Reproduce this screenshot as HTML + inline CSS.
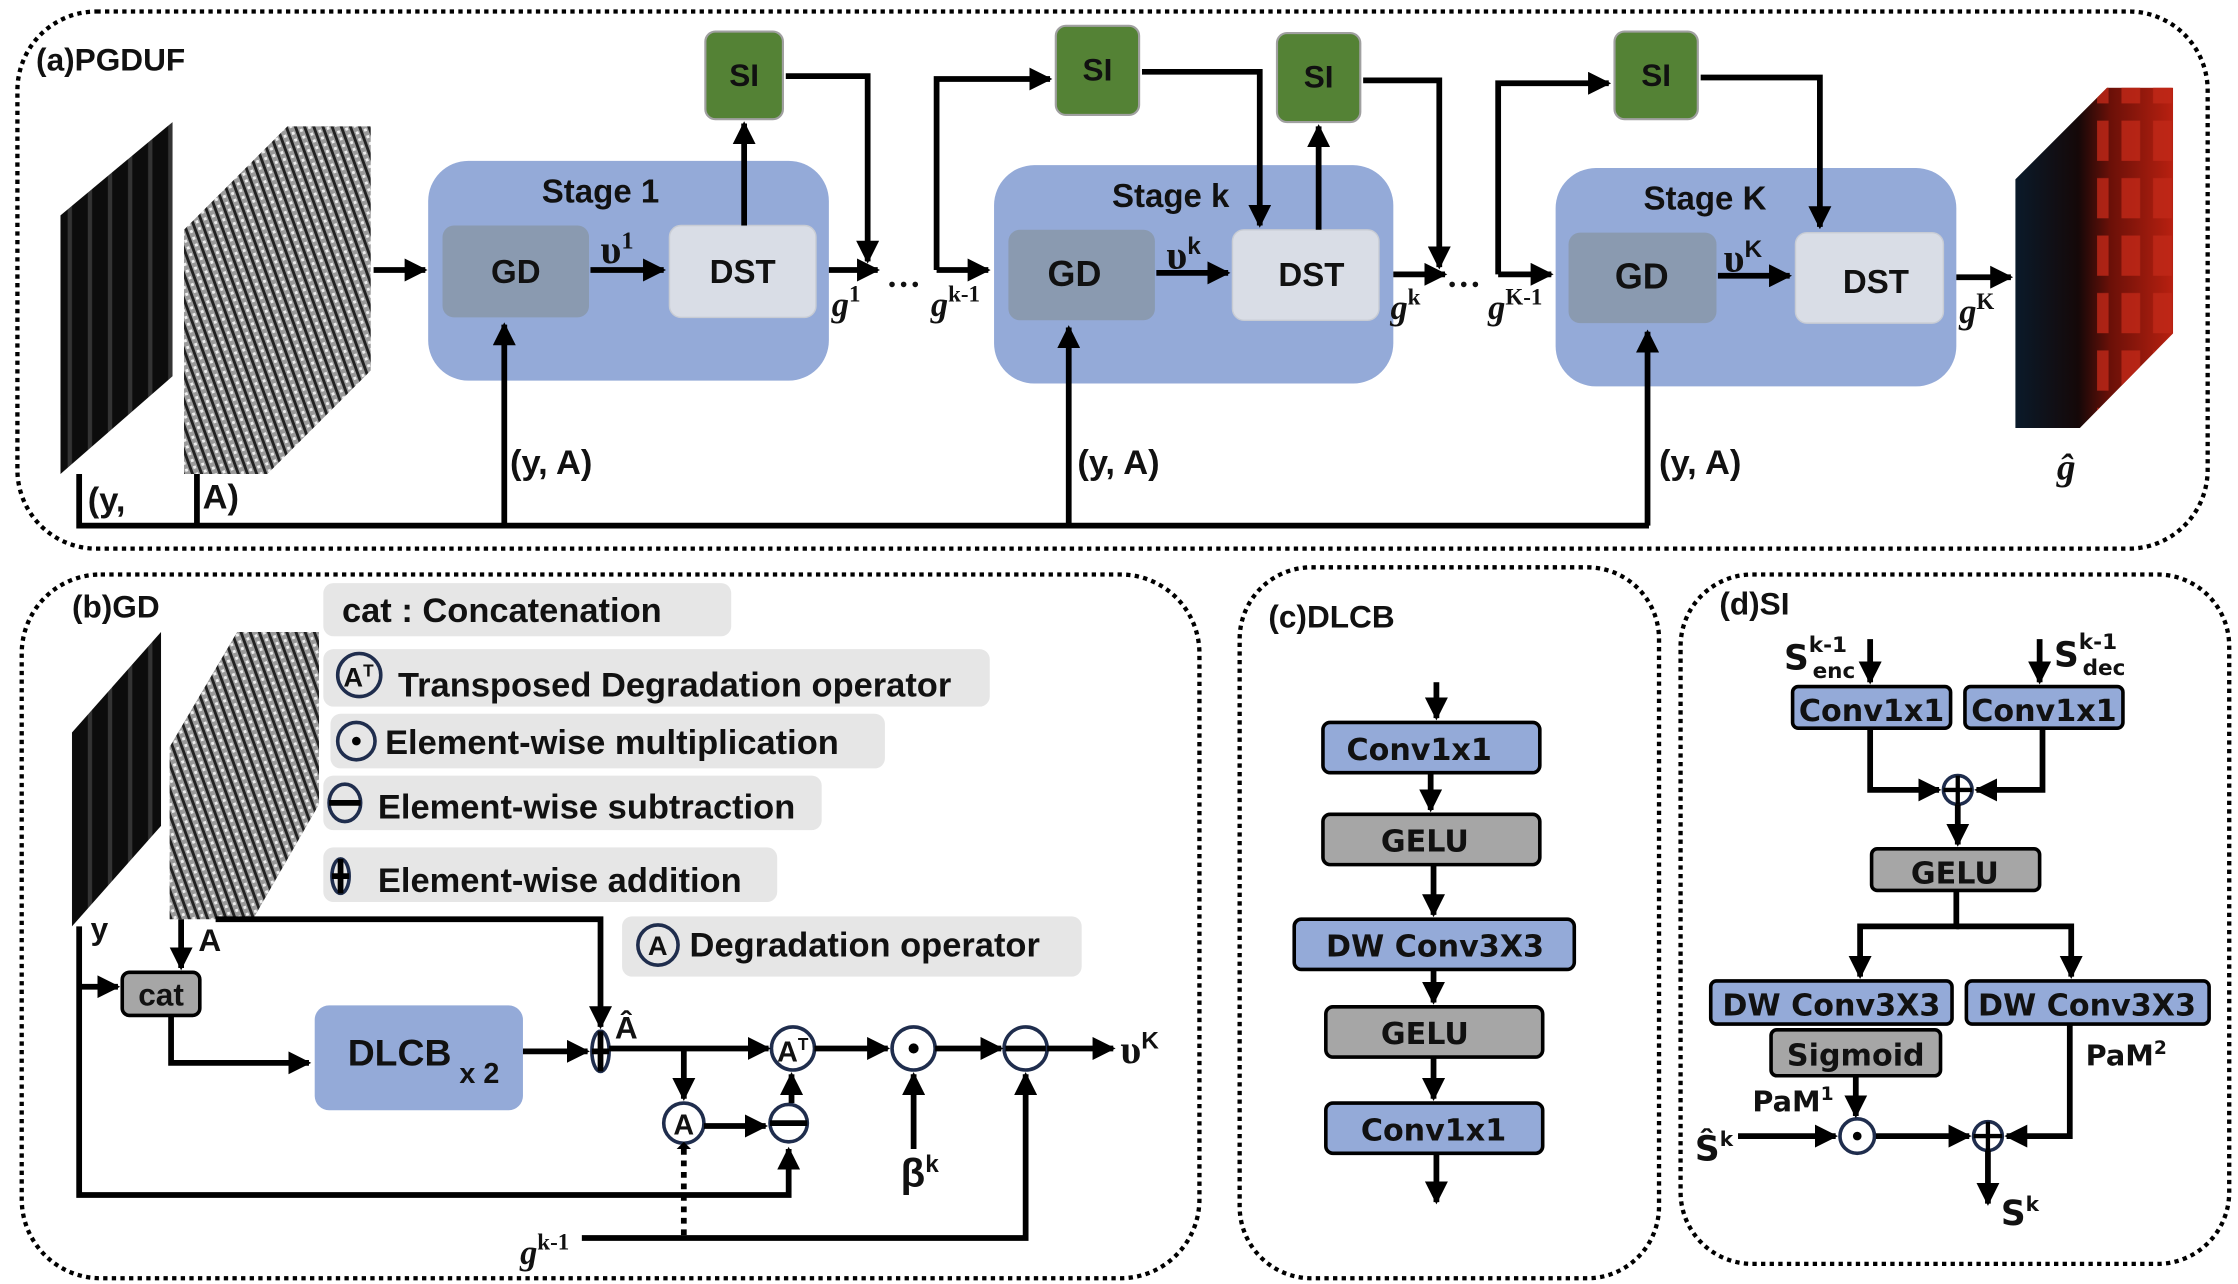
<!DOCTYPE html>
<html><head><meta charset="utf-8"><style>
html,body{margin:0;padding:0;background:#fff}
svg{display:block}
.t{font-family:"Liberation Sans",sans-serif;font-weight:bold;fill:#111}
.d{font-family:"DejaVu Sans",sans-serif;font-weight:bold;fill:#111}
.m{font-family:"Liberation Serif",serif;font-weight:bold;font-style:italic;fill:#111}
</style></head><body>
<svg width="2238" height="1284" viewBox="0 0 1558 894" xmlns="http://www.w3.org/2000/svg">
<defs>
<marker id="ah" viewBox="0 0 10 10" refX="9" refY="5" markerWidth="4" markerHeight="4" orient="auto-start-reverse" markerUnits="strokeWidth">
<path d="M0,0 L10,5 L0,10 z" fill="#000"/></marker>
<pattern id="noise" width="6" height="5" patternUnits="userSpaceOnUse" patternTransform="rotate(-20)">
<rect width="6" height="5" fill="#9a9a9a"/><rect width="2" height="5" fill="#222"/><rect x="3" y="1" width="2" height="2" fill="#eee"/></pattern>
<pattern id="ystripe" width="14" height="20" patternUnits="userSpaceOnUse">
<rect width="14" height="20" fill="#0c0c0c"/><rect x="5" width="3" height="20" fill="#333"/></pattern>
<linearGradient id="cubeg" x1="0" x2="1" y1="0" y2="0">
<stop offset="0" stop-color="#0a1a2a"/><stop offset="0.4" stop-color="#150808"/><stop offset="0.6" stop-color="#6a1008"/><stop offset="1" stop-color="#b82010"/></linearGradient>
<pattern id="redbl" width="22" height="40" patternUnits="userSpaceOnUse">
<rect x="3" y="4" width="13" height="28" fill="#c02818" opacity="0.8"/></pattern>
<clipPath id="cc"><polygon points="1403,125 1467,61 1513,61 1513,232 1448,298 1403,298"/></clipPath>
</defs>
<g fill="none" stroke="#000" stroke-width="3" stroke-dasharray="3 3">
<rect x="12" y="8" width="1525" height="374" rx="55"/>
<rect x="15" y="400" width="820" height="490" rx="55"/>
<rect x="863" y="395" width="292" height="495" rx="50"/>
<rect x="1170" y="400" width="382" height="480" rx="50"/>
</g>
<text class="t" x="25" y="49" font-size="22">(a)PGDUF</text>
<text class="t" x="50" y="430" font-size="22">(b)GD</text>
<text class="t" x="883" y="437" font-size="22">(c)DLCB</text>
<text class="t" x="1197" y="428" font-size="22">(d)SI</text>

<polygon points="42,150 120,85 120,262 42,330" fill="url(#ystripe)"/>
<polygon points="128,160 200,88 258,88 258,258 186,330 128,330" fill="url(#noise)"/>
<g clip-path="url(#cc)">
<rect x="1403" y="61" width="110" height="237" fill="url(#cubeg)"/>
<rect x="1460" y="61" width="53" height="237" fill="url(#redbl)"/>
</g>
<text class="m" x="1432" y="334" font-size="26">ĝ</text>

<g>
<rect x="298" y="112" width="279" height="153" rx="28" fill="#94aad8"/>
<rect x="692" y="115" width="278" height="152" rx="28" fill="#94aad8"/>
<rect x="1083" y="117" width="279" height="152" rx="28" fill="#94aad8"/>
<rect x="308" y="157" width="102" height="64" rx="8" fill="#8a9ab0"/>
<rect x="466" y="157" width="102" height="64" rx="8" fill="#d9dde6" stroke="#c8ccd4"/>
<rect x="702" y="160" width="102" height="63" rx="8" fill="#8a9ab0"/>
<rect x="858" y="160" width="102" height="63" rx="8" fill="#d9dde6" stroke="#c8ccd4"/>
<rect x="1092" y="162" width="103" height="63" rx="8" fill="#8a9ab0"/>
<rect x="1250" y="162" width="103" height="63" rx="8" fill="#d9dde6" stroke="#c8ccd4"/>
</g>
<g class="t" font-size="23" text-anchor="middle">
<text x="418" y="141">Stage 1</text><text x="815" y="144">Stage k</text><text x="1187" y="146">Stage K</text>
<text x="359" y="197">GD</text><text x="517" y="197">DST</text>
<text x="748" y="199" font-size="25">GD</text><text x="913" y="199">DST</text>
<text x="1143" y="201" font-size="25">GD</text><text x="1306" y="204">DST</text>
</g>
<g fill="#548235" stroke="#a0a0a0" stroke-width="1.5">
<rect x="491" y="22" width="54" height="61" rx="7"/>
<rect x="735" y="18" width="58" height="62" rx="7"/>
<rect x="889" y="23" width="58" height="62" rx="7"/>
<rect x="1124" y="22" width="58" height="61" rx="7"/>
</g>
<g class="t" font-size="22" text-anchor="middle">
<text x="518" y="60">SI</text><text x="764" y="56">SI</text><text x="918" y="61">SI</text><text x="1153" y="60">SI</text>
</g>
<g fill="none" stroke="#000" stroke-width="4" marker-end="url(#ah)">
<path d="M260,188 H296"/>
<path d="M411,188 H462"/>
<path d="M518,157 V86"/>
<path d="M547,53 H604 V182"/>
<path d="M577,188 H611"/>
<path d="M652,188 V55 H731"/>
<path d="M652,188 H688"/>
<path d="M805,190 H855"/>
<path d="M795,50 H877 V157"/>
<path d="M918,160 V88"/>
<path d="M949,56 H1002 V186"/>
<path d="M970,191 H1006"/>
<path d="M1043,191 V58 H1120"/>
<path d="M1043,191 H1080"/>
<path d="M1196,192 H1246"/>
<path d="M1184,54 H1267 V158"/>
<path d="M1362,193 H1400"/>
<path d="M351,366 V226"/>
<path d="M744,366 V228"/>
<path d="M1147,366 V231"/>
</g>
<path d="M55,330 V366 H1148 M137,330 V366" fill="none" stroke="#000" stroke-width="4"/>
<g class="t" font-size="24">
<text x="61" y="356">(y,</text><text x="141" y="354">A)</text>
<text x="355" y="330">(y, A)</text><text x="750" y="330">(y, A)</text><text x="1155" y="330">(y, A)</text>
</g>
<g class="m" font-size="24">
<text x="579" y="220">g<tspan font-size="16" dy="-10" font-style="normal">1</tspan></text>
<text x="617" y="200" font-style="normal">…</text>
<text x="648" y="220">g<tspan font-size="16" dy="-10" font-style="normal">k-1</tspan></text>
<text x="968" y="222">g<tspan font-size="16" dy="-10" font-style="normal">k</tspan></text>
<text x="1007" y="200" font-style="normal">…</text>
<text x="1036" y="222">g<tspan font-size="16" dy="-10" font-style="normal">K-1</tspan></text>
<text x="1364" y="225">g<tspan font-size="16" dy="-10" font-style="normal">K</tspan></text>
<text x="418" y="183" font-style="normal" font-size="28">υ<tspan font-size="17" dy="-10">1</tspan></text>
<text x="812" y="187" font-style="normal" font-size="28">υ<tspan font-size="17" dy="-10" font-family="Liberation Sans">k</tspan></text>
<text x="1200" y="189" font-style="normal" font-size="28">υ<tspan font-size="17" dy="-10" font-family="Liberation Sans">K</tspan></text>
</g>

<polygon points="50,510 112,440 112,575 50,645" fill="url(#ystripe)"/>
<polygon points="118,520 165,440 222,440 222,560 176,640 118,640" fill="url(#noise)"/>
<g fill="#e6e6e6">
<rect x="225" y="406" width="284" height="37" rx="7"/>
<rect x="225" y="452" width="464" height="40" rx="7"/>
<rect x="230" y="497" width="386" height="38" rx="7"/>
<rect x="225" y="540" width="347" height="38" rx="7"/>
<rect x="225" y="590" width="316" height="38" rx="7"/>
<rect x="433" y="638" width="320" height="42" rx="7"/>
</g>
<g fill="none" stroke="#1f2d4d" stroke-width="2.5">
<circle cx="250" cy="470" r="15"/><circle cx="248" cy="516" r="13"/>
<ellipse cx="240" cy="559" rx="11" ry="13"/><ellipse cx="237" cy="610" rx="6" ry="12"/>
<circle cx="458" cy="658" r="14"/>
</g>
<path d="M229,559 H251 M237,598 V622 M231,610 H243" stroke="#000" stroke-width="4"/>
<circle cx="248" cy="516" r="3" fill="#000"/>
<g class="t" font-size="24">
<text x="238" y="433">cat : Concatenation</text>
<text x="239" y="478" font-size="19">A<tspan font-size="12" dy="-7">T</tspan></text>
<text x="277" y="485">Transposed Degradation operator</text>
<text x="268" y="525">Element-wise multiplication</text>
<text x="263" y="570">Element-wise subtraction</text>
<text x="263" y="621">Element-wise addition</text>
<text x="451" y="665" font-size="19">A</text>
<text x="480" y="666">Degradation operator</text>
</g>
<rect x="85" y="677" width="54" height="30" rx="5" fill="#a6a6a6" stroke="#000" stroke-width="2.5"/>
<text class="t" x="112" y="700" font-size="22" text-anchor="middle">cat</text>
<rect x="219" y="700" width="145" height="73" rx="10" fill="#94aad8"/>
<text class="t" x="242" y="742" font-size="26">DLCB<tspan font-size="20" dy="12"> x 2</tspan></text>
<g fill="none" stroke="#1f2d4d" stroke-width="2.5">
<ellipse cx="418" cy="732" rx="6" ry="14"/>
<circle cx="552" cy="730" r="15"/><circle cx="636" cy="730" r="15"/><circle cx="714" cy="730" r="15"/>
<circle cx="476" cy="782" r="14"/><circle cx="549" cy="782" r="13"/>
</g>
<path d="M418,718 V746 M412,732 H424 M700,730 H728 M536,782 H562" stroke="#000" stroke-width="4"/>
<circle cx="636" cy="730" r="3.5" fill="#000"/>
<text class="t" x="541" y="739" font-size="20">A<tspan font-size="12" dy="-8">T</tspan></text>
<text class="t" x="476" y="790" font-size="20" text-anchor="middle">A</text>
<g fill="none" stroke="#000" stroke-width="4" marker-end="url(#ah)">
<path d="M55,687 H82"/>
<path d="M126,640 V674"/>
<path d="M150,640 H418 V715"/>
<path d="M119,707 V740 H215"/>
<path d="M364,732 H409"/>
<path d="M424,730 H535"/>
<path d="M476,730 V765"/>
<path d="M490,784 H533"/>
<path d="M551,768 V748"/>
<path d="M567,730 H618"/>
<path d="M651,730 H697"/>
<path d="M729,730 H775"/>
<path d="M636,800 V748"/>
<path d="M55,645 V832 H549 V800"/>
<path d="M405,862 H714 V748"/>
</g>
<path d="M476,860 V800" stroke="#000" stroke-width="4" stroke-dasharray="4 4"/>
<path d="M476,800 l-5,0 l5,-5 l5,5z" fill="#000"/>
<g class="t" font-size="22">
<text x="63" y="654">y</text><text x="138" y="662">A</text>
<text x="428" y="723">Â</text>
<text x="780" y="740" font-family="Liberation Serif" font-weight="bold" font-size="28">υ<tspan font-size="17" dy="-10" font-family="Liberation Sans">K</tspan></text>
<text x="627" y="826" font-weight="bold" font-size="28">β<tspan font-size="17" dy="-10">k</tspan></text>
</g>
<text class="m" x="362" y="880" font-size="24">g<tspan font-size="16" dy="-10" font-style="normal">k-1</tspan></text>

<g stroke="#000" stroke-width="2.5">
<rect x="921" y="503" width="151" height="35" rx="5" fill="#94aad8"/>
<rect x="921" y="567" width="151" height="35" rx="5" fill="#a6a6a6"/>
<rect x="901" y="640" width="195" height="35" rx="5" fill="#94aad8"/>
<rect x="923" y="701" width="151" height="35" rx="5" fill="#a6a6a6"/>
<rect x="923" y="768" width="151" height="35" rx="5" fill="#94aad8"/>
</g>
<g class="d" font-size="21" text-anchor="middle">
<text x="988" y="529">Conv1x1</text><text x="992" y="593">GELU</text><text x="999" y="666">DW Conv3X3</text>
<text x="992" y="727">GELU</text><text x="998" y="794">Conv1x1</text>
</g>
<g fill="none" stroke="#000" stroke-width="4" marker-end="url(#ah)">
<path d="M1000,475 V500"/><path d="M996,538 V564"/><path d="M998,602 V637"/>
<path d="M998,675 V698"/><path d="M998,736 V765"/><path d="M1000,803 V837"/>
</g>

<g stroke="#000" stroke-width="2.5">
<rect x="1248" y="478" width="110" height="29" rx="4" fill="#94aad8"/>
<rect x="1368" y="478" width="110" height="29" rx="4" fill="#94aad8"/>
<rect x="1303" y="591" width="117" height="29" rx="4" fill="#a6a6a6"/>
<rect x="1191" y="683" width="168" height="30" rx="4" fill="#94aad8"/>
<rect x="1369" y="683" width="169" height="30" rx="4" fill="#94aad8"/>
<rect x="1233" y="717" width="118" height="32" rx="4" fill="#a6a6a6"/>
</g>
<g class="d" font-size="21" text-anchor="middle">
<text x="1303" y="502">Conv1x1</text><text x="1423" y="502">Conv1x1</text>
<text x="1361" y="615">GELU</text>
<text x="1275" y="707">DW Conv3X3</text><text x="1453" y="707">DW Conv3X3</text>
<text x="1292" y="742">Sigmoid</text>
</g>
<g fill="none" stroke="#1f2d4d" stroke-width="2.5">
<circle cx="1363" cy="550" r="10"/><circle cx="1293" cy="791" r="12"/><circle cx="1384" cy="791" r="10"/>
</g>
<path d="M1363,540 V560 M1353,550 H1373 M1384,781 V801 M1374,791 H1394" stroke="#000" stroke-width="3"/>
<circle cx="1293" cy="791" r="3" fill="#000"/>
<g fill="none" stroke="#000" stroke-width="4" marker-end="url(#ah)">
<path d="M1302,445 V475"/><path d="M1420,445 V475"/>
<path d="M1302,507 V550 H1350"/><path d="M1422,507 V550 H1376"/>
<path d="M1363,560 V588"/>
<path d="M1362,620 V645 H1295 V680"/><path d="M1362,645 H1442 V680"/>
<path d="M1292,749 V777"/>
<path d="M1210,791 H1278"/><path d="M1306,791 H1371"/>
<path d="M1441,713 V791 H1397"/>
<path d="M1384,801 V838"/>
</g>
<g class="d" font-size="24">
<text x="1242" y="466">S<tspan font-size="15" dy="-12">k-1</tspan><tspan font-size="15" dx="-24" dy="18">enc</tspan></text>
<text x="1430" y="464">S<tspan font-size="15" dy="-12">k-1</tspan><tspan font-size="15" dx="-24" dy="18">dec</tspan></text>
<text x="1452" y="742" font-size="20">PaM<tspan font-size="13" dy="-8">2</tspan></text>
<text x="1220" y="774" font-size="20">PaM<tspan font-size="13" dy="-8">1</tspan></text>
<text x="1180" y="808">Ŝ<tspan font-size="14" dy="-10">k</tspan></text>
<text x="1393" y="853">S<tspan font-size="14" dy="-10">k</tspan></text>
</g>
</svg>
</body></html>
